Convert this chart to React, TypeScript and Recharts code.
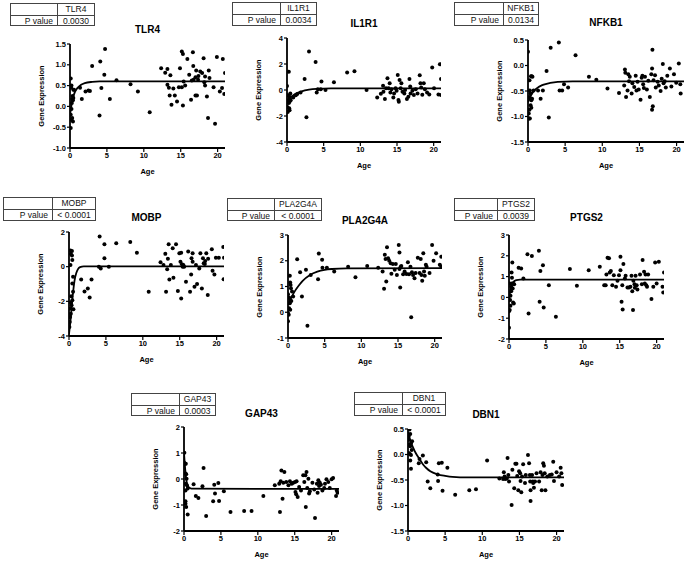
import React from 'react';
import {
  ComposedChart,
  Scatter,
  Line,
  XAxis,
  YAxis,
} from 'recharts';

type Pt = [number, number];

// ---- data ----

const genes = ['TLR4', 'IL1R1', 'NFKB1', 'MOBP', 'PLA2G4A', 'PTGS2', 'GAP43', 'DBN1'];
const pValues = ['0.0030', '0.0034', '0.0134', '< 0.0001', '< 0.0001', '0.0039', '0.0003', '< 0.0001'];
const ageTicks = [0, 5, 10, 15, 20];

const tlr4Points: Pt[] = [
  [0.1, 0.67], [0.2, 0.5], [0.15, 0.45], [0.45, 0.4], [0.35, 0.25], [0.3, 0.18], [0.4, 0.15], [0.25, 0.08],
  [0.2, -0.06], [0.1, -0.2], [0.3, -0.28], [0.4, -0.36], [0.2, -0.32], [0.1, -0.52], [0.55, 0.4], [0.45, 0.2],
  [1.36, 0.45], [1.6, 0.18], [2.1, 0.36], [2.5, 0.38], [2.7, 0.37], [3.0, 0.97], [4.0, -0.22], [4.1, 1.08],
  [4.25, 0.44], [4.65, 0.76], [4.75, 1.38], [5.4, 0.18], [6.3, 0.63], [8.2, 0.53], [9.2, 0.36], [10.8, -0.14],
  [12.35, 0.92], [12.9, 0.81], [13.2, 0.9], [13.2, 0.52], [13.4, 0.45], [13.6, 0.75], [13.5, 0.26], [13.75, 0.04],
  [14.0, 0.43], [14.2, 0.26], [14.5, 0.12], [14.75, 0.46], [14.9, 0.92], [15.15, 1.32], [15.3, 1.26], [15.15, 0.46],
  [15.3, 0.02], [15.4, 0.6], [15.6, 0.5], [15.9, 1.14], [16.15, 0.76], [16.4, 0.16], [16.5, 0.62], [16.65, 1.3],
  [16.7, 0.97], [16.75, 0.64], [17.0, 0.26], [17.0, 0.7], [17.1, 0.86], [17.2, 0.26], [17.35, 0.64], [17.4, 0.73],
  [17.65, 0.84], [17.9, 0.8], [18.1, 1.16], [18.2, 0.58], [18.3, 0.72], [18.3, 0.5], [18.55, 0.24], [18.7, -0.28],
  [18.8, 0.86], [18.9, 0.68], [19.45, 0.46], [19.65, -0.42], [19.9, 1.19], [20.3, 0.36], [20.7, 1.14], [20.9, 0.3],
  [21.0, 0.8], [20.6, 0.44],
];
const tlr4Fit: Pt[] = [[0, -0.22], [0.25, 0.08], [0.5, 0.27], [1, 0.44], [1.5, 0.52], [2, 0.56], [3, 0.59], [4, 0.6], [21, 0.6]];

const il1r1Points: Pt[] = [
  [0.0, 0.3], [0.25, 1.4], [0.1, -0.4], [0.15, -0.8], [0.25, -1.0], [0.05, -1.3], [0.3, -1.4], [0.1, -1.7],
  [0.35, -1.55], [0.4, -0.65], [0.3, -0.5], [0.45, -0.26], [0.2, -0.9], [0.35, -0.9], [0.5, -0.78],
  [0.85, -0.57], [1.2, -0.4], [1.4, -0.3], [1.85, -0.2], [2.4, 0.85], [2.65, -2.1], [3.0, 2.97], [3.9, 2.15],
  [4.05, -0.2], [4.2, 0.05], [4.6, 0.05], [4.7, 0.65], [5.25, 0.0], [6.4, 0.6], [8.2, 1.34], [9.2, 1.45],
  [10.85, 0.0], [12.3, -0.57], [12.8, -0.28], [13.1, 0.33], [13.15, -0.13], [13.35, -0.7], [13.5, 0.13], [13.7, 0.9],
  [13.85, 0.13], [14.0, 0.52], [14.1, -0.2], [14.25, 0.05], [14.5, -0.57], [14.6, -0.26], [14.8, 0.13], [14.95, -0.05],
  [15.1, 1.16], [15.2, -0.77], [15.25, -0.9], [15.35, 0.77], [15.5, 0.13], [15.6, 0.52], [15.75, -0.13], [16.0, -0.26],
  [16.1, 0.0], [16.35, -0.7], [16.55, -0.52], [16.7, 0.85], [16.8, 0.26], [16.85, -0.26], [17.1, -0.05], [17.3, -0.39],
  [17.55, 0.05], [17.8, -0.26], [18.1, 1.13], [18.2, 0.52], [18.3, 0.2], [18.45, -0.36], [18.65, 0.52], [18.8, 0.05],
  [19.1, -0.2], [19.4, -0.34], [19.8, 1.73], [20.05, 0.13], [20.65, -0.34], [20.85, 1.99], [21.0, 0.85], [21.0, -0.39],
];
const il1r1Fit: Pt[] = [[0, -0.85], [0.5, -0.55], [1, -0.35], [2, -0.1], [3, 0.03], [4, 0.09], [6, 0.12], [21, 0.12]];

const nfkb1Points: Pt[] = [
  [0.0, 0.27], [0.2, -0.29], [0.4, -0.21], [0.5, -0.21], [0.6, -0.22], [0.25, -0.49], [0.35, -0.55], [0.2, -0.62],
  [0.45, -0.68], [0.35, -0.78], [0.2, -0.87], [0.1, -0.94], [0.15, -1.04], [0.25, -1.04], [0.45, -0.83], [0.55, -0.65],
  [0.75, -0.49], [1.35, -0.49], [1.7, -0.65], [2.0, -0.49], [2.5, -0.11], [2.8, -1.02], [3.05, 0.35], [4.15, 0.45],
  [4.25, -0.49], [4.6, -0.49], [4.85, -0.37], [5.4, -0.43], [6.4, 0.2], [8.2, -0.22], [9.2, -0.28], [10.7, -0.45],
  [12.25, -0.54], [12.95, -0.39], [13.05, -0.08], [13.1, -0.14], [13.2, -0.62], [13.4, -0.49], [13.5, -0.17], [13.6, -0.31],
  [13.7, -0.22], [13.95, -0.55], [14.05, -0.35], [14.3, -0.42], [14.5, -0.2], [14.6, -0.49], [14.75, -0.32], [14.9, -0.47],
  [15.15, -0.67], [15.3, -0.24], [15.4, -0.2], [15.5, -0.37], [15.6, -0.44], [15.75, -0.22], [16.0, -0.47], [16.2, -0.3],
  [16.4, -0.62], [16.6, -0.17], [16.7, -0.06], [16.7, -0.87], [16.8, -0.8], [16.75, 0.31], [16.9, -0.29], [17.1, -0.19],
  [17.2, -0.43], [17.45, -0.32], [17.6, -0.39], [17.85, -0.5], [18.0, -0.26], [18.15, 0.03], [18.25, -0.35], [18.4, -0.31],
  [18.55, -0.43], [18.75, -0.2], [19.1, -0.06], [19.3, -0.41], [19.65, -0.17], [19.95, -0.34], [20.3, 0.04], [20.5, -0.37],
  [20.55, -0.55],
];
const nfkb1Fit: Pt[] = [[0, -0.72], [0.5, -0.56], [1, -0.47], [2, -0.38], [3, -0.34], [4, -0.32], [6, -0.31], [21, -0.31]];

const mobpPoints: Pt[] = [
  [0.2, 0.93], [0.25, 0.74], [0.4, 0.91], [0.4, 0.64], [0.2, 0.1], [0.45, 0.39], [0.55, -0.58], [0.45, -0.97],
  [0.55, -1.45], [0.45, -1.94], [0.25, -2.07], [0.35, -2.22], [0.2, -2.42], [0.6, -2.46], [0.25, -2.71], [0.15, -2.9],
  [0.1, -3.19], [0.05, -3.48], [0.3, -1.7], [1.65, -0.74], [2.1, -1.43], [2.55, -1.26], [2.8, -1.78], [3.05, -0.74],
  [4.15, 1.74], [4.05, 0.0], [4.3, -0.1], [4.8, 0.48], [4.8, 1.3], [5.4, 0.0], [6.4, 1.35], [8.3, 1.43],
  [9.2, 0.81], [10.8, -1.45], [12.4, 0.25], [12.8, 0.1], [13.05, 0.74], [13.15, -1.45], [13.3, -0.15], [13.4, 0.45],
  [13.5, 1.3], [13.6, -0.74], [13.8, 0.1], [14.05, 1.06], [14.15, -0.64], [14.5, 1.3], [14.75, -1.41], [14.95, 0.77],
  [15.1, 0.29], [15.2, -1.84], [15.2, 0.81], [15.3, 0.14], [15.4, 0.0], [15.5, 0.1], [15.6, 0.0], [15.85, -0.87],
  [16.15, 0.87], [16.4, -1.45], [16.55, -0.45], [16.6, 0.48], [16.75, 0.77], [16.75, 0.29], [17.0, -1.16], [17.2, 0.1],
  [17.35, -1.0], [17.65, -0.1], [17.8, 0.77], [18.0, -1.26], [18.15, 0.48], [18.25, 0.19], [18.4, 0.16], [18.45, 0.33],
  [18.6, 0.77], [18.8, -1.64], [18.85, 0.45], [19.35, 1.01], [19.45, -0.23], [19.7, -0.45], [19.9, 0.52], [20.3, 0.52],
  [20.9, 1.14], [20.95, -0.72], [21.0, 0.52],
];
const mobpFit: Pt[] = [[0, -3.9], [0.25, -2.9], [0.5, -1.7], [0.75, -0.8], [1, -0.35], [1.25, -0.12], [1.5, -0.03], [2, 0.02], [21, 0.02]];

const pla2g4aPoints: Pt[] = [
  [0.0, -0.35], [0.0, -0.03], [0.1, -0.1], [0.0, 0.7], [0.15, 0.57], [0.25, 0.35], [0.3, 0.48], [0.15, 0.16],
  [0.3, 0.1], [0.25, 1.42], [0.3, 1.16], [0.35, 1.06], [0.4, 0.93], [0.45, 0.44], [0.55, 0.81], [0.7, 0.61],
  [1.25, 2.06], [1.65, 1.55], [1.9, 0.61], [2.45, 1.65], [2.65, -0.52], [3.1, 1.45], [4.1, 1.28], [4.2, 2.28],
  [4.65, 2.04], [4.7, 1.73], [5.3, 1.73], [6.3, 1.58], [8.2, 1.77], [9.2, 1.36], [10.8, 1.8], [12.3, 1.73],
  [12.9, 1.58], [13.1, 0.91], [13.2, 2.23], [13.3, 2.07], [13.4, 1.19], [13.5, 2.52], [13.65, 2.1], [13.8, 2.0],
  [14.0, 1.9], [14.1, 1.5], [14.3, 1.87], [14.55, 1.65], [14.7, 1.87], [14.85, 1.45], [15.1, 2.61], [15.2, 2.32],
  [15.2, 1.68], [15.3, 0.96], [15.35, 1.76], [15.45, 1.8], [15.7, 1.48], [15.9, 1.58], [16.15, 1.49], [16.35, 1.94],
  [16.5, 1.48], [16.7, 1.77], [16.8, -0.19], [16.9, 1.55], [17.05, 1.45], [17.25, 1.32], [17.4, 1.52], [17.7, 2.12],
  [17.95, 1.52], [18.1, 2.07], [18.2, 1.45], [18.3, 1.22], [18.45, 2.29], [18.55, 1.58], [18.65, 1.42], [18.8, 1.84],
  [18.9, 1.77], [19.3, 1.52], [19.65, 2.61], [19.85, 2.0], [20.2, 2.29], [20.7, 1.84], [20.9, 2.16], [20.9, 1.77],
];
const pla2g4aFit: Pt[] = [[0, 0.3], [0.5, 0.6], [1, 0.85], [1.5, 1.05], [2, 1.22], [3, 1.45], [4, 1.58], [5, 1.65], [6, 1.68], [8, 1.7], [21, 1.71]];

const ptgs2Points: Pt[] = [
  [0.0, -1.46], [0.0, -0.66], [0.1, -0.61], [0.2, -0.4], [0.15, -0.13], [0.2, 0.08], [0.3, 0.3], [0.4, 0.67],
  [0.1, 0.67], [0.3, 0.51], [0.4, 0.95], [0.35, 1.2], [0.45, 1.68], [0.5, 0.43], [0.55, -0.24], [0.65, -0.29],
  [0.55, 0.67], [0.7, 0.63], [1.3, 1.43], [1.65, 1.39], [1.95, 0.91], [2.5, 2.07], [2.65, -0.77], [3.1, 1.99],
  [4.05, 2.24], [4.15, -0.21], [4.25, 1.27], [4.6, 1.55], [4.7, -0.48], [5.4, 0.59], [6.35, -0.93], [8.25, 1.36],
  [9.2, 0.56], [10.8, 1.31], [12.3, 1.47], [12.9, 0.59], [13.1, 0.59], [13.2, 1.1], [13.35, 1.91], [13.55, 1.88],
  [13.65, 1.2], [13.8, 1.27], [14.0, 0.59], [14.2, 1.07], [14.5, 0.51], [14.7, 0.8], [14.9, 1.07], [15.1, 1.31],
  [15.1, 1.96], [15.25, -0.21], [15.35, 0.59], [15.4, -0.58], [15.5, 1.6], [15.7, 0.91], [15.8, 1.04], [16.05, 0.48],
  [16.25, 0.48], [16.45, 0.51], [16.6, 1.04], [16.7, 0.3], [16.8, -0.61], [16.85, 0.8], [17.0, 0.63], [17.05, 0.46],
  [17.15, 1.04], [17.3, 0.59], [17.4, 0.38], [17.75, 1.1], [18.0, 0.63], [18.1, 1.8], [18.3, 1.23], [18.4, 0.67],
  [18.5, 1.1], [18.6, 0.59], [18.7, 0.51], [18.85, 1.1], [19.3, -0.08], [19.55, 0.51], [19.8, 1.68], [20.0, 0.67],
  [20.3, 1.71], [20.8, 0.51], [20.9, 0.24], [21.0, 1.2],
];
const ptgs2Fit: Pt[] = [[0, -0.1], [0.2, 0.35], [0.4, 0.6], [0.6, 0.74], [0.8, 0.8], [1, 0.83], [1.5, 0.85], [21, 0.85]];

const gap43Points: Pt[] = [
  [0.05, 1.01], [0.0, 0.63], [0.15, 0.59], [0.25, 0.59], [0.2, 0.21], [0.3, 0.18], [0.35, 0.01], [0.25, -0.18],
  [0.4, -0.24], [0.5, -0.37], [0.2, -0.86], [0.2, -0.95], [0.3, -1.08], [0.5, -1.37], [0.2, -0.44], [1.3, -0.2],
  [1.6, -0.65], [1.95, -0.73], [2.5, -0.28], [2.65, 0.42], [3.0, -1.42], [3.95, -0.86], [4.1, -0.22], [4.2, -0.56],
  [4.65, -0.15], [4.75, -0.85], [5.4, -0.47], [6.3, -1.27], [8.15, -1.23], [9.15, -1.23], [10.75, -0.65], [12.3, -0.24],
  [12.9, -0.18], [13.0, -1.27], [13.1, -0.09], [13.2, 0.33], [13.35, -0.76], [13.45, -0.14], [13.6, 0.27], [13.85, -0.12],
  [14.15, -0.24], [14.35, -0.09], [14.6, -0.18], [14.8, -0.14], [15.05, -0.12], [15.1, -0.5], [15.2, -0.59], [15.25, -0.09],
  [15.4, -0.69], [15.6, -0.31], [15.85, -0.44], [16.15, 0.14], [16.3, -0.12], [16.45, 0.14], [16.5, -1.08], [16.6, 0.27],
  [16.7, -0.35], [16.85, 0.01], [16.95, -0.56], [17.05, -0.47], [17.4, -0.14], [17.65, -0.4], [17.75, -1.5], [18.0, -0.18],
  [18.1, -0.53], [18.2, -0.05], [18.3, -0.27], [18.4, -0.14], [18.55, -0.22], [18.75, -0.44], [19.0, -0.35], [19.1, -0.18],
  [19.3, -0.01], [19.55, -0.12], [19.75, -0.35], [20.0, -0.01], [20.2, 0.04], [20.6, -0.65], [20.7, -0.44], [20.8, -0.53],
];
const gap43Fit: Pt[] = [[0, 1.0], [0.1, 0.6], [0.2, 0.25], [0.3, 0.0], [0.4, -0.17], [0.6, -0.3], [0.8, -0.35], [1, -0.37], [21, -0.38]];

const dbn1Points: Pt[] = [
  [0.0, 0.4], [0.1, 0.35], [0.2, 0.49], [0.3, 0.4], [0.15, 0.29], [0.2, 0.19], [0.3, 0.16], [0.4, 0.22],
  [0.1, 0.03], [0.25, 0.01], [0.4, -0.01], [0.5, 0.09], [0.3, -0.12], [0.4, -0.28], [0.55, 0.26], [1.45, -0.17],
  [1.55, -0.09], [2.0, -0.02], [2.45, -0.15], [2.65, -0.53], [3.0, -0.66], [4.0, -0.39], [4.05, -0.52], [4.15, -0.17],
  [4.55, -0.16], [4.65, -0.71], [5.3, -0.26], [6.35, -0.79], [8.25, -0.7], [9.15, -0.68], [10.65, -0.12], [12.3, -0.47],
  [12.8, -0.48], [12.9, -0.35], [13.0, -0.43], [13.1, -0.48], [13.3, -0.47], [13.4, -0.07], [13.5, -0.4], [13.6, -0.53],
  [13.95, -0.99], [14.05, -0.3], [14.3, -0.66], [14.45, -0.18], [14.6, -0.18], [14.7, -0.42], [14.85, -0.7], [14.95, -0.33],
  [15.1, -0.37], [15.15, -0.52], [15.25, -0.74], [15.35, -0.43], [15.5, -0.19], [15.75, -0.56], [15.85, -0.4], [16.15, -0.01],
  [16.3, -0.17], [16.4, -0.4], [16.45, -0.53], [16.5, -0.7], [16.5, -0.91], [16.7, -0.4], [16.8, -0.53], [16.85, -0.56],
  [16.95, -0.65], [17.1, -0.53], [17.3, -0.37], [17.65, -0.53], [17.85, -0.35], [18.0, -0.7], [18.1, -0.4], [18.2, -0.17],
  [18.3, -0.22], [18.4, -0.37], [18.5, -0.7], [18.75, -0.43], [19.1, -0.4], [19.35, -0.39], [19.55, -0.14], [19.65, -0.52],
  [20.0, -0.35], [20.35, -0.43], [20.55, -0.26], [20.65, -0.37], [20.75, -0.6],
];
const dbn1Fit: Pt[] = [[0, 0.38], [0.5, 0.2], [1, 0.04], [1.5, -0.08], [2, -0.19], [2.5, -0.27], [3, -0.33], [4, -0.39], [5, -0.42], [6, -0.44], [8, -0.45], [21, -0.45]];

const allPoints = [tlr4Points, il1r1Points, nfkb1Points, mobpPoints, pla2g4aPoints, ptgs2Points, gap43Points, dbn1Points];
const allFits = [tlr4Fit, il1r1Fit, nfkb1Fit, mobpFit, pla2g4aFit, ptgs2Fit, gap43Fit, dbn1Fit];
const yTicks = [
  [-1, -0.5, 0, 0.5, 1, 1.5],
  [-4, -2, 0, 2, 4],
  [-1.5, -1, -0.5, 0, 0.5],
  [-4, -2, 0, 2],
  [-1, 0, 1, 2, 3],
  [-2, -1, 0, 1, 2, 3],
  [-2, -1, 0, 1, 2],
  [-1.5, -1, -0.5, 0, 0.5],
];
const yDecimals = [1, 0, 1, 0, 0, 0, 0, 1];

// ---- layout (page pixels) ----
// plot box: left/top/width/height; table: left, split, right, top, bottom; title offset above plot
const plots = [
  { l: 70, t: 44, w: 155, h: 104, tt: 15 },
  { l: 287, t: 38, w: 154, h: 104, tt: 15 },
  { l: 528, t: 40, w: 156, h: 102, tt: 18 },
  { l: 69, t: 232, w: 155, h: 104, tt: 15 },
  { l: 288, t: 235, w: 154, h: 103, tt: 15 },
  { l: 509, t: 235, w: 155, h: 104, tt: 18 },
  { l: 184, t: 427, w: 155, h: 104, tt: 14 },
  { l: 408, t: 429, w: 156, h: 102, tt: 15 },
];
const tables = [
  { l: 10, s: 57, r: 95, t: 3, b: 26 },
  { l: 232, s: 280, r: 317, t: 2, b: 26 },
  { l: 454, s: 503, r: 539, t: 2, b: 26 },
  { l: 3, s: 52, r: 96, t: 197, b: 221 },
  { l: 227, s: 274, r: 322, t: 198, b: 221 },
  { l: 454, s: 497, r: 535, t: 198, b: 221 },
  { l: 131, s: 179, r: 216, t: 393, b: 416 },
  { l: 354, s: 402, r: 446, t: 392, b: 416 },
];

const FONT = '"Liberation Sans", Arial, sans-serif';
const YW = 40;
const XH = 20;
const MT = 4;
const MR = 6;

const Dot = (props: any) => <circle cx={props.cx} cy={props.cy} r={2} fill="#000" />;

function PTable({ i }: { i: number }) {
  const tb = tables[i];
  const rh = (tb.b - tb.t) / 2;
  const cell: React.CSSProperties = {
    position: 'absolute',
    border: '1px solid #444',
    boxSizing: 'border-box',
    fontSize: 8.5,
    lineHeight: `${rh - 1}px`,
    whiteSpace: 'nowrap',
    color: '#111',
  };
  return (
    <>
      <div style={{ ...cell, left: tb.l, top: tb.t, width: tb.s - tb.l + 1, height: rh + 1 }} />
      <div style={{ ...cell, left: tb.s, top: tb.t, width: tb.r - tb.s, height: rh + 1, textAlign: 'center' }}>{genes[i]}</div>
      <div style={{ ...cell, left: tb.l, top: tb.t + rh, width: tb.s - tb.l + 1, height: rh, textAlign: 'right', paddingRight: 4 }}>P value</div>
      <div style={{ ...cell, left: tb.s, top: tb.t + rh, width: tb.r - tb.s, height: rh, textAlign: 'center' }}>{pValues[i]}</div>
    </>
  );
}

function Panel({ i }: { i: number }) {
  const p = plots[i];
  const ticks = yTicks[i];
  const pts = allPoints[i].map(([x, y]) => ({ x, y }));
  const fit = allFits[i].map(([x, y]) => ({ x, y }));
  const tickStyle = { fill: '#000', fontSize: 7.5, fontWeight: 700, fontFamily: FONT };
  return (
    <>
      <PTable i={i} />
      <div
        style={{
          position: 'absolute', left: p.l + p.w / 2, top: p.t - p.tt, transform: 'translate(-50%, -50%)',
          fontSize: 10, fontWeight: 700, whiteSpace: 'nowrap',
        }}
      >
        {genes[i]}
      </div>
      <div style={{ position: 'absolute', left: p.l - YW, top: p.t - MT }}>
        <ComposedChart
          width={YW + p.w + MR}
          height={MT + p.h + XH}
          margin={{ top: MT, right: MR, bottom: 0, left: 0 }}
        >
          <XAxis
            type="number"
            dataKey="x"
            domain={[0, 21]}
            ticks={ageTicks}
            height={XH}
            tick={tickStyle}
            tickSize={4}
            tickMargin={1}
            axisLine={{ stroke: '#000', strokeWidth: 1.8 }}
            tickLine={{ stroke: '#000', strokeWidth: 1.2 }}
            allowDataOverflow
          />
          <YAxis
            type="number"
            dataKey="y"
            domain={[ticks[0], ticks[ticks.length - 1]]}
            ticks={ticks}
            width={YW}
            tick={tickStyle}
            tickSize={3}
            tickMargin={1}
            tickFormatter={(v: number) => v.toFixed(yDecimals[i])}
            axisLine={{ stroke: '#000', strokeWidth: 1.8 }}
            tickLine={{ stroke: '#000', strokeWidth: 1.2 }}
            allowDataOverflow
          />
          <Scatter data={pts} dataKey="y" shape={Dot} isAnimationActive={false} />
          <Line
            data={fit}
            dataKey="y"
            type="monotone"
            stroke="#000"
            strokeWidth={1.8}
            dot={false}
            activeDot={false}
            isAnimationActive={false}
          />
        </ComposedChart>
      </div>
      <div
        style={{
          position: 'absolute', left: p.l - 29, top: p.t + p.h / 2, transform: 'translate(-50%, -50%) rotate(-90deg)',
          fontSize: 7.5, fontWeight: 700, whiteSpace: 'nowrap',
        }}
      >
        Gene Expression
      </div>
      <div
        style={{
          position: 'absolute', left: p.l + p.w / 2, top: p.t + p.h + 23, transform: 'translate(-50%, -50%)',
          fontSize: 7.5, fontWeight: 700, whiteSpace: 'nowrap',
        }}
      >
        Age
      </div>
    </>
  );
}

export default function App() {
  return (
    <div
      style={{
        position: 'absolute', left: 0, top: 0, width: 689, height: 564, background: '#fff',
        fontFamily: FONT, color: '#000', overflow: 'hidden',
      }}
    >
      {genes.map((g, i) => (
        <Panel key={g} i={i} />
      ))}
    </div>
  );
}
